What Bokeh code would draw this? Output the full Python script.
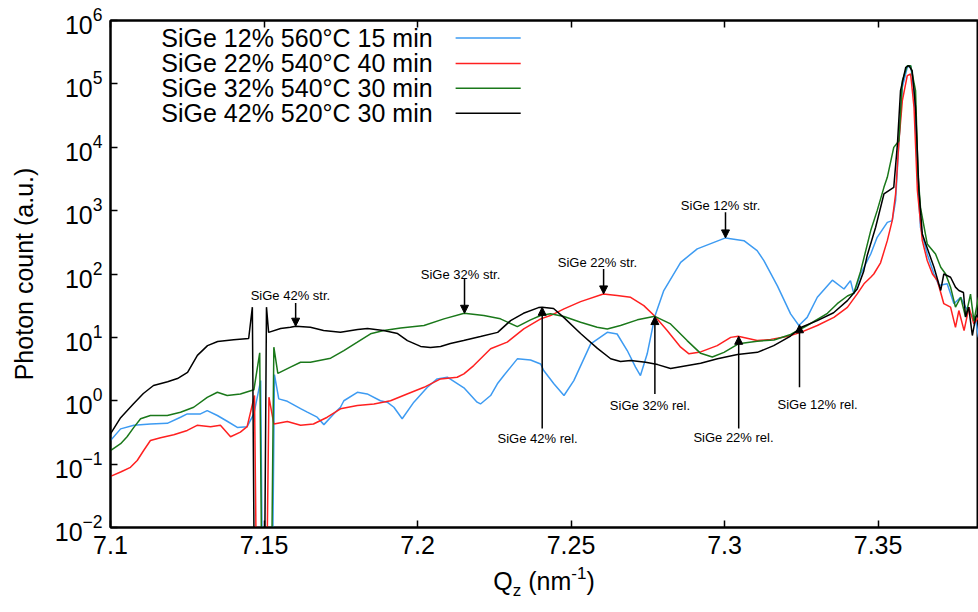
from bokeh.plotting import figure
from bokeh.models import Range1d, FixedTicker, LinearAxis, Label, Arrow, NormalHead, Div
from bokeh.layouts import column
from bokeh.embed import file_html
from bokeh.resources import INLINE

# ---------------- data ----------------
x_42 = [7.1000, 7.1033, 7.1075, 7.1107, 7.1140, 7.1186, 7.1218, 7.1251, 7.1283, 7.1316, 7.1349, 7.1401, 7.1450,
        7.1462, 7.1470, 7.1500, 7.1508, 7.1515, 7.1554, 7.1586, 7.1603, 7.1651, 7.1694, 7.1749, 7.1805, 7.1837,
        7.1889, 7.1935, 7.1967, 7.2010, 7.2042, 7.2075, 7.2107, 7.2150, 7.2205, 7.2261, 7.2303, 7.2345, 7.2394,
        7.2406, 7.2443, 7.2476, 7.2531, 7.2586, 7.2629, 7.2661, 7.2694, 7.2743, 7.2782, 7.2824, 7.2866, 7.2922,
        7.2977, 7.3042, 7.3107, 7.3160, 7.3215, 7.3248, 7.3302, 7.3355, 7.3400, 7.3432, 7.3453, 7.3465, 7.3492,
        7.3519, 7.3551, 7.3563, 7.3573, 7.3590, 7.3600, 7.3611, 7.3622, 7.3633, 7.3644, 7.3655, 7.3682, 7.3704,
        7.3714, 7.3736, 7.3752, 7.3763, 7.3778, 7.3785, 7.3795, 7.3807, 7.3818, 7.3827]
y_42 = [0.30, 0.54, 0.90, 1.30, 1.74, 2.0, 2.24, 2.8, 5.2, 7.4, 8.6, 9.2, 9.6,
        30, 1e-4, 1e-4, 30, 12, 13.8, 14.4, 15.0, 14.4, 12.8, 12.0, 13.3, 13.8,
        12.8, 11.5, 8.9, 7.2, 6.9, 7.2, 8.0, 8.9, 10.3, 12.0, 18.4, 24.0, 29.5,
        30, 28.5, 20.7, 11.5, 6.7, 4.6, 4.15, 4.3, 4.05, 3.72, 3.22, 3.5, 3.9,
        4.6, 5.35, 5.8, 7.4, 10.5, 14.3, 18.4, 24.5, 38, 58, 110, 200, 546,
        1830, 2330, 11300, 78000, 182000, 194000, 161000, 42600, 2070, 429, 300, 128, 55,
        100, 89, 62, 55, 51, 21, 30, 10.7, 21, 24]

x_32 = [7.1000, 7.1033, 7.1054, 7.1076, 7.1098, 7.1130, 7.1185, 7.1228, 7.1271, 7.1315, 7.1348, 7.1380, 7.1423,
        7.1467, 7.1486, 7.1495, 7.1522, 7.1532, 7.1545, 7.1586, 7.1619, 7.1651, 7.1717, 7.1760, 7.1804, 7.1847,
        7.1890, 7.1945, 7.2021, 7.2086, 7.2152, 7.2216, 7.2270, 7.2325, 7.2368, 7.2401, 7.2433, 7.2477, 7.2531,
        7.2585, 7.2618, 7.2661, 7.2716, 7.2773, 7.2824, 7.2878, 7.2922, 7.2960, 7.2998, 7.3045, 7.3106, 7.3161,
        7.3215, 7.3269, 7.3335, 7.3367, 7.3400, 7.3421, 7.3443, 7.3476, 7.3497, 7.3519, 7.3530, 7.3551, 7.3568,
        7.3579, 7.3595, 7.3606, 7.3622, 7.3630, 7.3638, 7.3660, 7.3687, 7.3704, 7.3720, 7.3736, 7.3752, 7.3769,
        7.3785, 7.3801, 7.3812, 7.3827]
y_32 = [0.164, 0.21, 0.27, 0.38, 0.52, 0.585, 0.585, 0.66, 0.79, 1.13, 1.36, 1.21, 1.28,
        1.49, 5.7, 1e-4, 1e-4, 7.0, 2.7, 3.4, 4.05, 4.05, 4.7, 6.2, 8.4, 11.4,
        12.8, 14.1, 15.4, 19.6, 24.0, 22.1, 19.6, 14.8, 18.9, 22.1, 23.5, 21.3, 17.3,
        14.4, 13.6, 15.4, 18.9, 21.5, 16.3, 8.9, 5.6, 4.9, 5.8, 7.9, 8.7, 9.1,
        11.1, 15.4, 24, 34, 45, 50, 110, 484, 1000, 2330, 3350, 9960, 12700,
        112000, 194000, 194000, 78000, 3790, 1130, 298, 207, 128, 100, 62, 30, 43,
        21, 48, 18, 43]

x_22 = [7.1000, 7.1033, 7.1065, 7.1087, 7.1108, 7.1130, 7.1163, 7.1206, 7.1250, 7.1282, 7.1326, 7.1358, 7.1391,
        7.1423, 7.1445, 7.1469, 7.1478, 7.1506, 7.1516, 7.1532, 7.1576, 7.1619, 7.1661, 7.1706, 7.1749, 7.1804,
        7.1858, 7.1912, 7.1966, 7.2021, 7.2075, 7.2129, 7.2151, 7.2183, 7.2238, 7.2292, 7.2346, 7.2401, 7.2433,
        7.2477, 7.2531, 7.2605, 7.2650, 7.2694, 7.2737, 7.2773, 7.2813, 7.2857, 7.2884, 7.2922, 7.2976, 7.3020,
        7.3044, 7.3106, 7.3150, 7.3204, 7.3248, 7.3302, 7.3356, 7.3400, 7.3432, 7.3454, 7.3476, 7.3486, 7.3508,
        7.3530, 7.3546, 7.3557, 7.3568, 7.3579, 7.3595, 7.3606, 7.3617, 7.3628, 7.3644, 7.3660, 7.3677, 7.3693,
        7.3714, 7.3736, 7.3752, 7.3763, 7.3780, 7.3796, 7.3812, 7.3827]
y_22 = [0.064, 0.075, 0.089, 0.114, 0.164, 0.236, 0.26, 0.29, 0.34, 0.41, 0.39, 0.41, 0.27,
        0.32, 0.39, 1.21, 1e-4, 1e-4, 1.14, 0.43, 0.47, 0.41, 0.43, 0.55, 0.745, 0.84,
        0.89, 1.0, 1.28, 1.63, 2.21, 2.35, 2.66, 3.59, 6.6, 8.4, 13.6, 19.6, 22.1,
        28.2, 36.7, 48.5, 45.6, 42.9, 31.7, 21.5, 12.8, 7.0, 5.5, 5.9, 7.4, 10.0,
        10.4, 8.9, 9.3, 10.3, 12.0, 15.4, 20.7, 29.8, 48.5, 70, 89, 100, 150,
        336, 695, 1830, 12700, 54300, 135000, 143000, 42600, 2070, 336, 163, 100, 79,
        34, 30, 14.4, 26.5, 12.8, 30, 16.3, 20.7]

x_12 = [7.1000, 7.1033, 7.1076, 7.1130, 7.1185, 7.1228, 7.1250, 7.1293, 7.1315, 7.1348, 7.1380, 7.1413, 7.1445,
        7.1467, 7.1489, 7.1497, 7.1525, 7.1534, 7.1548, 7.1576, 7.1619, 7.1641, 7.1673, 7.1695, 7.1727, 7.1749,
        7.1760, 7.1804, 7.1836, 7.1879, 7.1901, 7.1923, 7.1950, 7.1988, 7.2032, 7.2064, 7.2097, 7.2151, 7.2194,
        7.2205, 7.2238, 7.2260, 7.2281, 7.2325, 7.2368, 7.2401, 7.2411, 7.2444, 7.2477, 7.2509, 7.2564, 7.2618,
        7.2650, 7.2683, 7.2710, 7.2726, 7.2748, 7.2773, 7.2802, 7.2857, 7.2911, 7.3003, 7.3063, 7.3106, 7.3128,
        7.3172, 7.3215, 7.3242, 7.3269, 7.3302, 7.3351, 7.3389, 7.3410, 7.3421, 7.3443, 7.3476, 7.3497, 7.3530,
        7.3546, 7.3557, 7.3568, 7.3579, 7.3595, 7.3606, 7.3617, 7.3628, 7.3638, 7.3660, 7.3682, 7.3698, 7.3725,
        7.3747, 7.3769, 7.3785, 7.3801, 7.3818, 7.3827]
y_12 = [0.236, 0.36, 0.41, 0.43, 0.44, 0.55, 0.62, 0.62, 0.70, 0.585, 0.475, 0.38, 0.39,
        0.62, 2.08, 1e-4, 1e-4, 2.59, 1.07, 0.98, 0.75, 0.66, 0.55, 0.42, 0.62, 0.79,
        1.0, 1.36, 1.28, 1.0, 0.95, 0.79, 0.52, 0.95, 1.63, 2.21, 2.35, 1.6, 0.95,
        0.89, 1.21, 1.85, 2.5, 4.58, 4.4, 3.8, 3.0, 1.85, 1.21, 2.08, 7.9, 12.0,
        11.3, 6.2, 3.4, 2.5, 5.5, 21.5, 54.7, 153, 249, 371, 336, 234, 163,
        65, 23.5, 15.4, 20.7, 43, 80, 58, 78.7, 48.5, 100, 207, 379, 653,
        695, 1440, 12700, 88000, 182000, 194000, 78000, 3790, 546, 207, 100, 66, 70,
        34, 43, 30, 23.5, 18.4, 10]

series_names = ["SiGe 12% 560°C 15 min", "SiGe 22% 540°C 40 min",
                "SiGe 32% 540°C 30 min", "SiGe 42% 520°C 30 min"]
series_colors = ["#3d9bf2", "#ff2020", "#1a781a", "#000000"]

x_ticks = [7.1, 7.15, 7.2, 7.25, 7.3, 7.35]
x_tick_labels = ["7.1", "7.15", "7.2", "7.25", "7.3", "7.35"]
y_ticks = [1e-2, 1e-1, 1e0, 1e1, 1e2, 1e3, 1e4, 1e5, 1e6]

# annotations: text, text x, text y, arrow x, arrow start y, arrow tip y
ann_text = ["SiGe 42% str.", "SiGe 32% str.", "SiGe 22% str.", "SiGe 12% str.",
            "SiGe 42% rel.", "SiGe 32% rel.", "SiGe 22% rel.", "SiGe 12% rel."]
ann_tx = [7.1586, 7.2140, 7.2586, 7.2987, 7.2391, 7.2757, 7.3029, 7.3303]
ann_ty = [46, 100, 151, 1200, 0.254, 0.84, 0.263, 0.87]
ann_ax = [7.1603, 7.2153, 7.2606, 7.3003, 7.2406, 7.2773, 7.3046, 7.3244]
ann_a0 = [35, 84, 120, 940, 0.365, 1.28, 0.365, 1.63]
ann_a1 = [15.0, 24.0, 48.5, 371, 29.8, 21.3, 10.4, 15.8]

FONT = "Liberation Sans"

p = figure(width=978, height=578, x_range=Range1d(7.1, 7.3827), y_range=Range1d(1e-2, 1e6),
           y_axis_type="log", output_backend="svg", toolbar_location=None,
           min_border_left=110, min_border_right=0, min_border_top=20, min_border_bottom=51)
p.grid.visible = False
p.outline_line_color = "black"
p.outline_line_width = 2
p.background_fill_color = "white"
p.border_fill_color = "white"

p.xaxis.ticker = FixedTicker(ticks=x_ticks)
p.xaxis.major_label_overrides = {t: l for t, l in zip(x_ticks, x_tick_labels)}
p.yaxis.ticker = FixedTicker(ticks=y_ticks)
for ax in (p.xaxis, p.yaxis):
    ax.major_tick_in = 7
    ax.major_tick_out = 0
    ax.minor_tick_line_color = None
    ax.axis_line_width = 2
    ax.major_tick_line_width = 1.5
    ax.major_label_text_font = FONT
    ax.major_label_text_font_size = "25px"
    ax.major_label_text_color = "black"
p.xaxis.major_label_standoff = 8
p.yaxis.major_label_standoff = 8
p.yaxis.axis_label = "Photon count (a.u.)"
p.yaxis.axis_label_text_font = FONT
p.yaxis.axis_label_text_font_size = "25px"
p.yaxis.axis_label_text_font_style = "normal"
p.yaxis.axis_label_text_color = "black"
p.yaxis.axis_label_standoff = 14

top = LinearAxis(ticker=FixedTicker(ticks=x_ticks), major_label_text_font_size="8px",
                 major_label_text_color=None,
                 major_tick_in=7, major_tick_out=0, minor_tick_line_color=None,
                 axis_line_width=2, major_tick_line_width=1.5, major_label_standoff=0)
p.add_layout(top, "above")

for xs, ys, c in [(x_12, y_12, series_colors[0]), (x_22, y_22, series_colors[1]),
                  (x_32, y_32, series_colors[2]), (x_42, y_42, series_colors[3])]:
    p.line(xs, ys, line_color=c, line_width=1.5)

# legend (manual: text left of sample line)
leg_y = [5.3e5, 2.1e5, 8.5e4, 3.43e4]
for name, c, ly in zip(series_names, series_colors, leg_y):
    p.add_layout(Label(x=7.2049, y=ly, text=name, text_align="right", text_baseline="middle",
                       text_font=FONT, text_font_size="25px", text_color="black"))
    p.line([7.2124, 7.2336], [ly, ly], line_color=c, line_width=1.5)

for t, tx, ty, ax_, a0, a1 in zip(ann_text, ann_tx, ann_ty, ann_ax, ann_a0, ann_a1):
    p.add_layout(Arrow(end=NormalHead(size=8, fill_color="black", line_color="black", line_width=1),
                       x_start=ax_, y_start=a0, x_end=ax_, y_end=a1, line_width=1.5, line_color="black"))
    p.add_layout(Label(x=tx, y=ty, text=t, text_align="center", text_baseline="middle",
                       text_font=FONT, text_font_size="13px", text_color="black"))

# x-axis label Q_z (nm^-1) as HTML text below the plot, centred under the frame
xlabel_html = ('<span style="position:relative;top:-12px">Q'
               '<span style="font-size:17px;position:relative;top:6px">z</span> (nm'
               '<span style="font-size:17px;position:relative;top:-11px">-1</span>)</span>')
xlabel = Div(text=xlabel_html, width=868, height=34, margin=(0, 0, 0, 110),
             styles={"font-family": FONT, "font-size": "25px", "line-height": "30px",
                     "text-align": "center", "color": "black", "width": "868px",
                     "display": "block", "white-space": "nowrap"})

layout = column(p, xlabel, spacing=0)
open("out.html", "w").write(file_html(layout, INLINE))
